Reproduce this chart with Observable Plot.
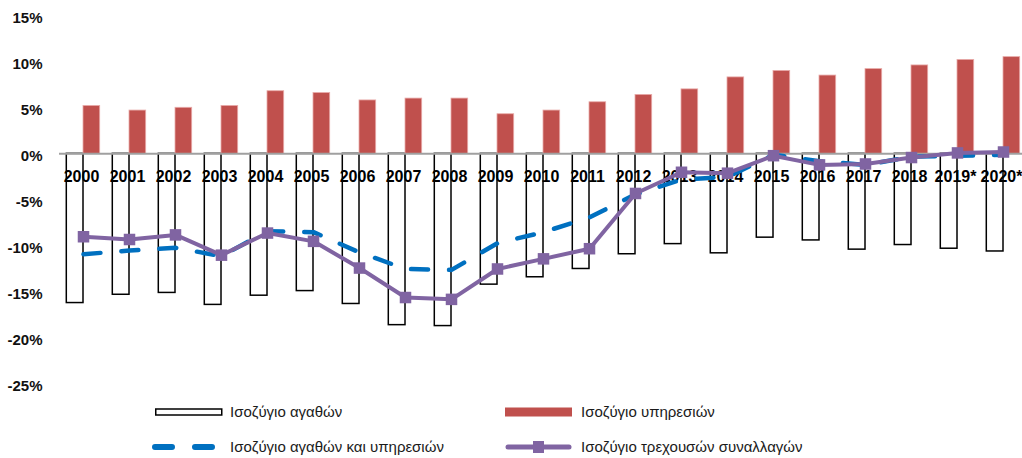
<!DOCTYPE html>
<html>
<head>
<meta charset="utf-8">
<script src="https://cdn.jsdelivr.net/npm/d3@7"></script>
<script src="https://cdn.jsdelivr.net/npm/@observablehq/plot@0.6"></script>
<style>
  body { margin: 0; background: #fff; font-family: "Liberation Sans", Arial, sans-serif; }
  #chart svg { display: block; }
  #legend { position: relative; width: 1022px; height: 63px; }
  .lg { position: absolute; font-size: 15px; color: #1a1a1a; line-height: 16px; white-space: nowrap; }
  .sw { position: absolute; }
</style>
</head>
<body>
<div id="chart"></div>
<div id="legend"></div>
<script>
const years = ["2000","2001","2002","2003","2004","2005","2006","2007","2008","2009","2010",
  "2011","2012","2013","2014","2015","2016","2017","2018","2019*","2020*"];
const goods = [-16.2,-15.3,-15.1,-16.4,-15.4,-14.9,-16.3,-18.6,-18.7,-14.2,-13.4,
  -12.5,-10.9,-9.8,-10.8,-9.1,-9.4,-10.4,-9.9,-10.3,-10.6];
const services = [5.2,4.7,5.0,5.2,6.8,6.6,5.8,6.0,6.0,4.3,4.7,
  5.6,6.4,7.0,8.3,9.0,8.5,9.2,9.6,10.2,10.5];
const goodsServices = [-10.9,-10.5,-10.2,-11.1,-8.4,-8.5,-10.7,-12.5,-12.6,-9.7,-8.5,
  -6.9,-4.4,-2.8,-2.5,-0.1,-0.8,-1.2,-0.3,-0.2,-0.1];
const current = [-9.0,-9.3,-8.8,-11.0,-8.6,-9.5,-12.4,-15.6,-15.8,-12.5,-11.4,
  -10.3,-4.3,-2.0,-2.1,-0.2,-1.2,-1.1,-0.4,0.1,0.2];
const yTicks = [-25,-20,-15,-10,-5,0,5,10,15];

const legendItems = [
  {label: "Ισοζύγιο αγαθών", kind: "goods"},
  {label: "Ισοζύγιο υπηρεσιών", kind: "services"},
  {label: "Ισοζύγιο αγαθών και υπηρεσιών", kind: "gs"},
  {label: "Ισοζύγιο τρεχουσών συναλλαγών", kind: "ca"}
];

const data = years.map((year, i) => ({
  year, goods: goods[i], services: services[i], gs: goodsServices[i], ca: current[i]
}));

const colors = {services: "#C0504D", gs: "#0070C0", ca: "#8064A2"};

const hasAxisMark = typeof Plot.axisY === "function";
const yAxisMarks = hasAxisMark
  ? [Plot.axisY(yTicks, {tickSize: 0, tickPadding: 17, tickFormat: d => d + "%", dy: 2, fontSize: 15, fontWeight: "bold", fill: "#111", label: null})]
  : [];

const chart = Plot.plot({
  width: 1022,
  height: 395,
  marginLeft: 59,
  marginRight: 0,
  marginTop: 0,
  marginBottom: 0,
  style: {fontFamily: "'Liberation Sans', Arial, sans-serif", fontSize: "15px", fontWeight: "bold", color: "#111", background: "#fff"},
  x: {type: "band", domain: years, range: [59.3, 1025.7], padding: 0, axis: null},
  y: {domain: [-25, 15], range: [383.6, 15.2], ticks: yTicks, tickFormat: d => d + "%", tickSize: 0, tickPadding: 17, label: null, ...(hasAxisMark ? {axis: null} : {})},
  marks: [
    ...yAxisMarks,
    Plot.barY(data, {x: "year", y: "goods", fill: "#fff", stroke: "#000", strokeWidth: 1.5, insetLeft: 6.3, insetRight: 23}),
    Plot.barY(data, {x: "year", y: "services", fill: colors.services, stroke: "#e8aaa8", strokeWidth: 0.8, insetLeft: 23, insetRight: 6.3}),
    Plot.ruleY([0], {stroke: "#a0a0a0", strokeWidth: 2}),
    Plot.text(data, {x: "year", y: () => 0, text: "year", dy: 23, dx: -2, fontSize: 16, fontWeight: "bold", fill: "#000"}),
    Plot.line(data, {x: "year", y: "gs", stroke: colors.gs, strokeWidth: 4.5, strokeDasharray: "17,21", strokeLinecap: "round"}),
    Plot.line(data, {x: "year", y: "ca", stroke: colors.ca, strokeWidth: 4, strokeLinejoin: "round"}),
    Plot.dot(data, {x: "year", y: "ca", symbol: "square", r: 6.5, fill: colors.ca, stroke: "none"})
  ]
});
document.getElementById("chart").appendChild(chart);

// Legend
const legend = document.getElementById("legend");
const positions = [
  {sx: 155, tx: 230, cy: 17},
  {sx: 505, tx: 581, cy: 17},
  {sx: 152, tx: 230, cy: 52},
  {sx: 505, tx: 581, cy: 52}
];
legendItems.forEach((item, i) => {
  const p = positions[i];
  const ns = "http://www.w3.org/2000/svg";
  const svg = document.createElementNS(ns, "svg");
  svg.setAttribute("class", "sw");
  svg.setAttribute("width", 70);
  svg.setAttribute("height", 16);
  svg.style.left = p.sx + "px";
  svg.style.top = (p.cy - 8) + "px";
  let inner = "";
  if (item.kind === "goods") {
    inner = `<rect x="0.75" y="5" width="66" height="6" fill="#fff" stroke="#000" stroke-width="1.5"/>`;
  } else if (item.kind === "services") {
    inner = `<rect x="0" y="3.5" width="67" height="9" fill="${colors.services}"/>`;
  } else if (item.kind === "gs") {
    inner = `<line x1="3" y1="8" x2="62" y2="8" stroke="${colors.gs}" stroke-width="6" stroke-linecap="round" stroke-dasharray="17,23"/>`;
  } else {
    inner = `<line x1="3" y1="8" x2="64" y2="8" stroke="${colors.ca}" stroke-width="5" stroke-linecap="round"/>
             <rect x="28" y="2" width="11" height="12" fill="${colors.ca}"/>`;
  }
  svg.innerHTML = inner;
  legend.appendChild(svg);
  const t = document.createElement("div");
  t.className = "lg";
  t.textContent = item.label;
  t.style.left = p.tx + "px";
  t.style.top = (p.cy - 8) + "px";
  legend.appendChild(t);
});
</script>
</body>
</html>
